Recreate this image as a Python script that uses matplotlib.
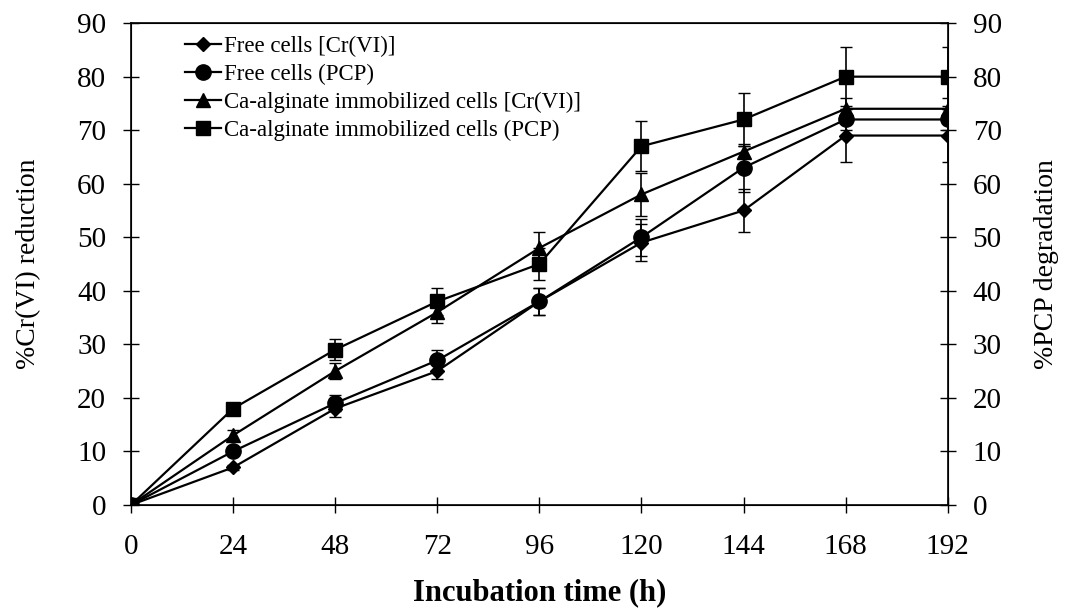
import matplotlib
matplotlib.use("Agg")
import matplotlib.pyplot as plt

plt.rcParams["font.family"] = ["Liberation Serif", "DejaVu Serif"]

hours = [0, 24, 48, 72, 96, 120, 144, 168, 192]

free_cr = [0, 7, 18, 25, 38, 49, 55, 69, 69]
free_cr_err = [0, 0.5, 1.5, 1.5, 2.5, 3.5, 4, 5, 5]

free_pcp = [0, 10, 19, 27, 38, 50, 63, 72, 72]
free_pcp_err = [0, 0.5, 1.5, 2, 2.5, 3.5, 4.5, 2, 2]

immob_cr = [0, 13, 25, 36, 48, 58, 66, 74, 74]
immob_cr_err = [0, 1, 1.5, 2, 3, 4, 1, 2, 2]

immob_pcp = [0, 18, 29, 38, 45, 67, 72, 80, 80]
immob_pcp_err = [0, 0.5, 2, 2.5, 3, 4.7, 5, 5.5, 5.5]

labels = [
    "Free cells [Cr(VI)]",
    "Free cells (PCP)",
    "Ca-alginate immobilized cells [Cr(VI)]",
    "Ca-alginate immobilized cells (PCP)",
]

fig = plt.figure(figsize=(10.66, 6.09), dpi=100)
ax = fig.add_axes([0.123, 0.171, 0.766, 0.791])

series = [
    (free_cr, free_cr_err, "D", 7),
    (free_pcp, free_pcp_err, "o", 11),
    (immob_cr, immob_cr_err, "^", 10),
    (immob_pcp, immob_pcp_err, "s", 10),
]
handles = []
for (vals, err, mk, ms), lab in zip(series, labels):
    cont = ax.errorbar(hours, vals, yerr=err, color="black", marker=mk, markersize=ms,
                       linewidth=1.6, elinewidth=1.2, capsize=4, capthick=1.0,
                       label=lab, zorder=3)
    handles.append(cont[0])

ax.set_xlim(0, 192)
ax.set_ylim(0, 90)
ax.set_xticks(hours)
ax.set_yticks(range(0, 91, 10))
ax.tick_params(direction="inout", length=12, width=1, labelsize=21, pad=12)
ax.tick_params(axis="x", pad=15)
for s in ax.spines.values():
    s.set_linewidth(1.2)

ax.set_xlabel("Incubation time (h)", fontsize=22, fontweight="bold", labelpad=13)
ax.set_ylabel("%Cr(VI) reduction", fontsize=20, labelpad=26)

ax2 = ax.twinx()
ax2.set_ylim(0, 90)
ax2.set_yticks(range(0, 91, 10))
ax2.tick_params(direction="inout", length=12, width=1, labelsize=21, pad=12)
ax2.set_ylabel("%PCP degradation", fontsize=20, labelpad=23)

ax.legend(handles=handles, labels=labels, loc="upper left",
          bbox_to_anchor=(0.05, 1.0), frameon=False,
          fontsize=16.5, handlelength=1.6, handletextpad=0.1,
          labelspacing=0.3, borderaxespad=0.15)

fig.savefig("out.png", dpi=100)
